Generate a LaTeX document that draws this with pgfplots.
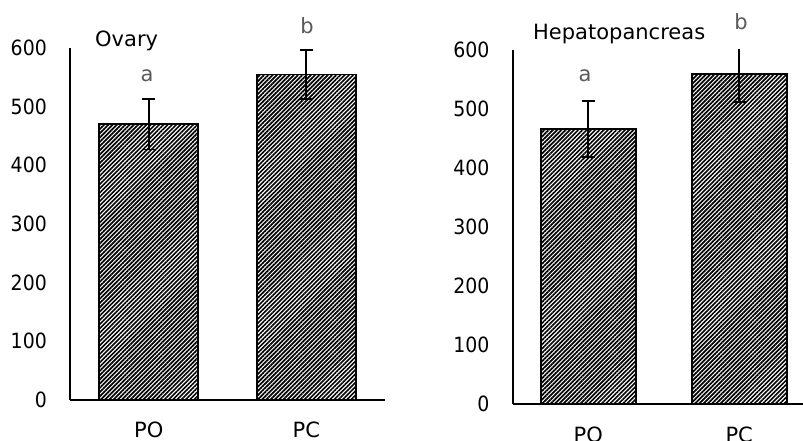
\documentclass[border=0pt]{standalone}
\usepackage{pgfplots}
\pgfplotsset{compat=1.18}
\usepackage{fontspec}
\setmainfont{DejaVu Sans}
\newfontfamily\condfont{DejaVu Sans Condensed}
\usetikzlibrary{patterns.meta}
\definecolor{lettergray}{HTML}{595959}
\newcommand\bigfont{\fontsize{21bp}{25bp}\selectfont}
\begin{document}
\begin{tikzpicture}
\path[use as bounding box] (0bp,0bp) rectangle (803bp,441bp);
\pgfplotsset{
  mybar/.style={
    scale only axis, ymin=0, ymax=600, ytick={0,100,...,600},
    enlargelimits=false,
    axis x line*=bottom, axis y line*=left,
    axis line style={line width=1.6bp, black},
    major tick length=0pt,
    xtick={0,1}, xticklabels={PO,PC},
    xmin=-0.5,
    ybar,
    /pgf/number format/assume math mode=true,
    tick label style={font=\fontsize{21bp}{25bp}\condfont, inner sep=0pt},
    yticklabel style={anchor=east, xshift=-23bp},
    xticklabel style={anchor=north, font=\bigfont},
  },
  hatchbar/.style={
    draw=black, line width=1.8bp,
    pattern={Lines[angle=45,distance=3bp,line width=1.7bp]}, pattern color=black,
    error bars/.cd, y dir=both, y explicit,
    error bar style={line width=1.8bp, black},
    error mark options={rotate=90, mark size=6.5bp, line width=1.8bp, black},
  },
}
\begin{axis}[mybar, at={(70bp,41bp)}, anchor=south west, width=315bp, height=352bp, xmax=1.5, bar width=99bp,
  xticklabel style={yshift=-21.7bp}]
\addplot[hatchbar] coordinates {(0,470) +- (0,43) (1,555) +- (0,42)};
\end{axis}
\begin{axis}[mybar, at={(512.7bp,37bp)}, anchor=south west, width=290.3bp, height=354bp, xmax=1.4225, bar width=95bp,
  xticklabel style={yshift=-22.7bp}]
\addplot[hatchbar] coordinates {(0,466) +- (0,47) (1,559) +- (0,47)};
\end{axis}
\node[anchor=base west, inner sep=0, font=\bigfont] at (95bp,394.3bp) {Ovary};
\node[anchor=base west, inner sep=0, font=\bigfont] at (533bp,401bp) {Hepatopancreas};
\node[anchor=base, inner sep=0, font=\bigfont, text=lettergray] at (147bp,359.3bp) {a};
\node[anchor=base, inner sep=0, font=\bigfont, text=lettergray] at (307bp,407.7bp) {b};
\node[anchor=base, inner sep=0, font=\bigfont, text=lettergray] at (585bp,359.3bp) {a};
\node[anchor=base, inner sep=0, font=\bigfont, text=lettergray] at (741bp,411.7bp) {b};
\end{tikzpicture}
\end{document}
